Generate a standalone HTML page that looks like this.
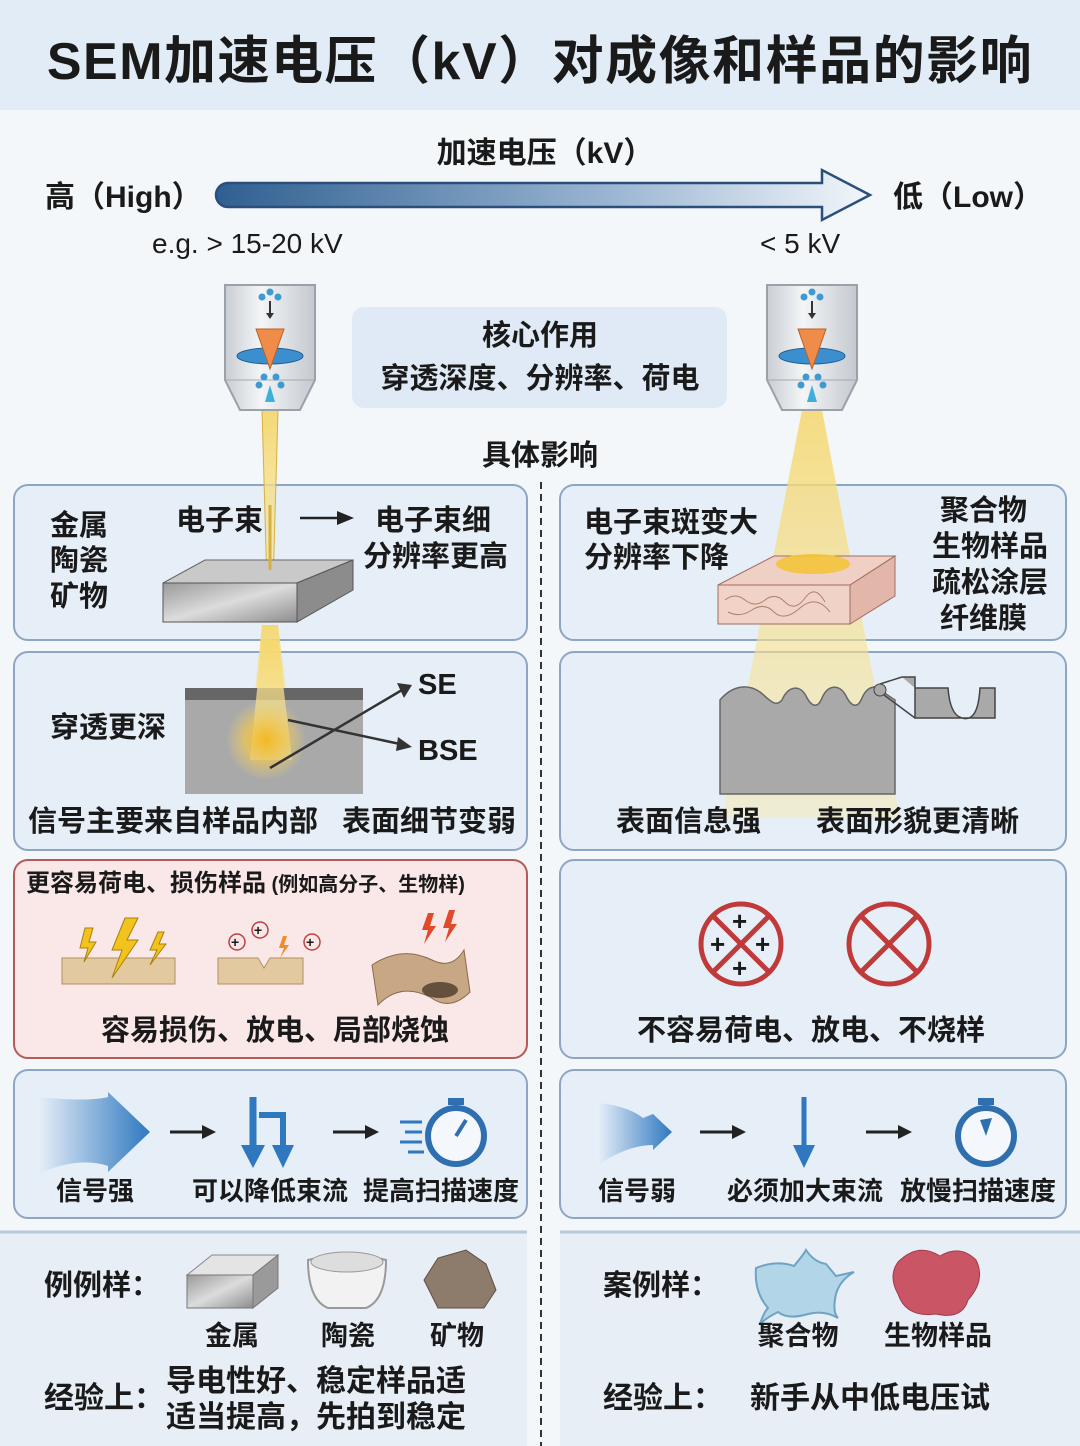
<!DOCTYPE html>
<html><head><meta charset="utf-8">
<style>
html,body{margin:0;padding:0;background:#f4f7fa;}
svg{display:block;}
text{font-family:"Liberation Sans","Noto Sans CJK SC",sans-serif;font-weight:bold;fill:#1a1a1a;}
.n{font-weight:normal;}
</style></head><body>
<svg width="1080" height="1446" viewBox="0 0 1080 1446" xmlns="http://www.w3.org/2000/svg">
<defs>
<linearGradient id="ar" x1="0" x2="1" y1="0" y2="0"><stop offset="0" stop-color="#2f5f91"/><stop offset="0.6" stop-color="#9ab5d2"/><stop offset="1" stop-color="#f2f6fa"/></linearGradient>
<linearGradient id="bm" x1="0" x2="0" y1="0" y2="1"><stop offset="0" stop-color="#f5d76e" stop-opacity="0.95"/><stop offset="1" stop-color="#f8e9a8" stop-opacity="0.5"/></linearGradient>
<linearGradient id="met" x1="0" x2="1" y1="0" y2="1"><stop offset="0" stop-color="#9a9a9a"/><stop offset="0.5" stop-color="#dcdcdc"/><stop offset="1" stop-color="#8d8d8d"/></linearGradient>
<radialGradient id="glow"><stop offset="0" stop-color="#f3b820"/><stop offset="0.5" stop-color="#f5c94a" stop-opacity="0.7"/><stop offset="1" stop-color="#f5d76e" stop-opacity="0"/></radialGradient>
<linearGradient id="gun" x1="0" x2="1"><stop offset="0" stop-color="#c9ced4"/><stop offset="0.4" stop-color="#f3f5f7"/><stop offset="1" stop-color="#c4c9cf"/></linearGradient>
<linearGradient id="sig" x1="0" x2="1"><stop offset="0" stop-color="#e7eff8"/><stop offset="1" stop-color="#2f78c0"/></linearGradient>
</defs>
<rect width="1080" height="1446" fill="#f4f7fa"/>
<rect width="1080" height="110" fill="#e2ecf6"/>
<text x="540" y="79" font-size="52" text-anchor="middle" letter-spacing="1.5">SEM加速电压（kV）对成像和样品的影响</text>

<text x="545" y="163" font-size="30" text-anchor="middle">加速电压（kV）</text>
<text x="45" y="207" font-size="30">高（High）</text>
<text x="893" y="207" font-size="30">低（Low）</text>
<path d="M228 183 H822 V170 L870 195 L822 220 V207 H228 A12 12 0 0 1 228 183Z" fill="url(#ar)" stroke="#2a4f7a" stroke-width="2.5"/>
<text x="152" y="253" font-size="28" class="n">e.g. &gt; 15-20 kV</text>
<text x="760" y="253" font-size="28" class="n">&lt; 5 kV</text>

<rect x="352" y="307" width="375" height="101" rx="12" fill="#dfeaf6"/>
<text x="540" y="345" font-size="29" text-anchor="middle">核心作用</text>
<text x="540" y="388" font-size="29" text-anchor="middle">穿透深度、分辨率、荷电</text>
<text x="540" y="465" font-size="29" text-anchor="middle">具体影响</text>
<line x1="541" y1="482" x2="541" y2="1446" stroke="#333" stroke-width="2" stroke-dasharray="7 5"/>

<g fill="#e6eef7" stroke="#8ea6c4" stroke-width="2">
<rect x="14" y="485" width="513" height="155" rx="14"/>
<rect x="560" y="485" width="506" height="155" rx="14"/>
<rect x="14" y="652" width="513" height="198" rx="14"/>
<rect x="560" y="652" width="506" height="198" rx="14"/>
<rect x="560" y="860" width="506" height="198" rx="14"/>
<rect x="14" y="1070" width="513" height="148" rx="14"/>
<rect x="560" y="1070" width="506" height="148" rx="14"/>
</g>
<rect x="14" y="860" width="513" height="198" rx="14" fill="#fae7e7" stroke="#b55a5a" stroke-width="2"/>
<rect x="0" y="1232" width="527" height="214" fill="#e8eef6"/>
<rect x="560" y="1232" width="520" height="214" fill="#e8eef6"/>
<line x1="0" y1="1232" x2="527" y2="1232" stroke="#b8c8dc" stroke-width="3"/>
<line x1="560" y1="1232" x2="1080" y2="1232" stroke="#b8c8dc" stroke-width="3"/>

<polygon points="262,410 278,410 272,620 268,620" fill="url(#bm)" stroke="#d6b040" stroke-width="1"/>
<polygon points="262,625 278,625 292,740 250,740" fill="url(#bm)"/>
<g transform="translate(225,285)">
<path d="M0 0 H90 V95 L75 125 H15 L0 95Z" fill="url(#gun)" stroke="#9aa1a8" stroke-width="2"/>
<line x1="0" y1="95" x2="90" y2="95" stroke="#a5abb1"/>
<circle cx="37" cy="12" r="3.5" fill="#3f9ad3"/><circle cx="45" cy="7" r="3.5" fill="#3f9ad3"/><circle cx="53" cy="12" r="3.5" fill="#3f9ad3"/>
<path d="M45 16 V30" stroke="#333" stroke-width="2"/><path d="M41 28 L45 34 L49 28Z" fill="#333"/>
<ellipse cx="45" cy="71" rx="33" ry="8" fill="#3b8fcf" stroke="#245f94"/>
<path d="M31 44 H59 L45 84Z" fill="#f08c4a" stroke="#b9602a"/>
<circle cx="39" cy="92" r="3.5" fill="#3f9ad3"/><circle cx="51" cy="92" r="3.5" fill="#3f9ad3"/><circle cx="34" cy="100" r="3.5" fill="#3f9ad3"/><circle cx="56" cy="100" r="3.5" fill="#3f9ad3"/>
<path d="M40 117 L45 100 L50 117Z" fill="#3cb0d8"/>
</g>
<polygon points="802,410 822,410 900,818 722,818" fill="url(#bm)" opacity="0.9"/>
<g transform="translate(767,285)">
<path d="M0 0 H90 V95 L75 125 H15 L0 95Z" fill="url(#gun)" stroke="#9aa1a8" stroke-width="2"/>
<line x1="0" y1="95" x2="90" y2="95" stroke="#a5abb1"/>
<circle cx="37" cy="12" r="3.5" fill="#3f9ad3"/><circle cx="45" cy="7" r="3.5" fill="#3f9ad3"/><circle cx="53" cy="12" r="3.5" fill="#3f9ad3"/>
<path d="M45 16 V30" stroke="#333" stroke-width="2"/><path d="M41 28 L45 34 L49 28Z" fill="#333"/>
<ellipse cx="45" cy="71" rx="33" ry="8" fill="#3b8fcf" stroke="#245f94"/>
<path d="M31 44 H59 L45 84Z" fill="#f08c4a" stroke="#b9602a"/>
<circle cx="39" cy="92" r="3.5" fill="#3f9ad3"/><circle cx="51" cy="92" r="3.5" fill="#3f9ad3"/><circle cx="34" cy="100" r="3.5" fill="#3f9ad3"/><circle cx="56" cy="100" r="3.5" fill="#3f9ad3"/>
<path d="M40 117 L45 100 L50 117Z" fill="#3cb0d8"/>
</g>

<text x="50" y="535" font-size="29">金属</text>
<text x="50" y="570" font-size="29">陶瓷</text>
<text x="50" y="606" font-size="29">矿物</text>
<text x="176" y="530" font-size="29">电子束</text>
<path d="M300 518 H340" stroke="#222" stroke-width="2.5"/><path d="M337 511 L354 518 L337 525Z" fill="#222"/>
<text x="375" y="530" font-size="29">电子束细</text>
<text x="363" y="566" font-size="29">分辨率更高</text>
<polygon points="163,583 205,560 353,560 297,583" fill="#c9c9c9" stroke="#666"/>
<rect x="163" y="583" width="134" height="39" fill="url(#met)" stroke="#555"/>
<polygon points="297,583 353,560 353,590 297,622" fill="#8c8c8c" stroke="#555"/>
<line x1="270" y1="505" x2="270" y2="570" stroke="#d6b040" stroke-width="3"/>

<rect x="185" y="688" width="178" height="106" fill="#a9a9a9"/>
<rect x="185" y="688" width="178" height="12" fill="#666"/>
<polygon points="262,640 278,640 292,760 250,760" fill="url(#bm)"/>
<circle cx="266" cy="740" r="40" fill="url(#glow)"/>
<text x="50" y="737" font-size="29">穿透更深</text>
<path d="M270 768 L402 690" stroke="#333" stroke-width="2.5"/><path d="M397 683 L412 685 L404 698Z" fill="#333"/>
<path d="M288 720 L400 744" stroke="#333" stroke-width="2.5"/><path d="M398 737 L412 747 L396 751Z" fill="#333"/>
<text x="418" y="694" font-size="29">SE</text>
<text x="418" y="760" font-size="29">BSE</text>
<text x="28" y="831" font-size="29">信号主要来自样品内部</text>
<text x="342" y="831" font-size="29">表面细节变弱</text>

<text x="584" y="532" font-size="29">电子束斑变大</text>
<text x="584" y="567" font-size="29">分辨率下降</text>
<text x="940" y="520" font-size="29">聚合物</text>
<text x="932" y="556" font-size="29">生物样品</text>
<text x="932" y="592" font-size="29">疏松涂层</text>
<text x="940" y="628" font-size="29">纤维膜</text>
<polygon points="718,585 774,556 895,556 850,585" fill="#f0cfc4" stroke="#a06d64"/>
<rect x="718" y="585" width="132" height="39" fill="#f1d2c7" stroke="#a06d64"/>
<polygon points="850,585 895,556 895,596 850,624" fill="#e2b7aa" stroke="#a06d64"/>
<path d="M725 600 q10 -8 20 0 t20 0 t20 2 t20 -4 t20 4 M728 612 q12 6 24 -2 t22 2 t26 -4 t30 4" fill="none" stroke="#b08070" stroke-width="1"/>
<ellipse cx="813" cy="564" rx="37" ry="10" fill="#f3c43a" opacity="0.9"/>

<path d="M720 700 C730 688,745 682,760 692 C770 700,775 708,782 700 C788 686,800 684,806 696 C812 708,818 708,822 698 C828 684,840 684,846 696 C852 708,858 708,862 698 C868 684,880 684,886 694 L895 700 V794 H720Z" fill="#a9a9a9" stroke="#666" stroke-width="1.5"/>
<circle cx="880" cy="690" r="6" fill="#aaa" stroke="#444"/>
<path d="M880 684 L902 677 M884 695 L915 718" stroke="#444" stroke-width="1.5"/>
<path d="M902 677 H915 V718 H995 V688 H980 q-2 35 -18 30 q-12 -3 -14 -30 H915" fill="#a9a9a9" stroke="#444" stroke-width="1.5"/>
<text x="616" y="831" font-size="29">表面信息强</text>
<text x="816" y="831" font-size="29">表面形貌更清晰</text>

<text x="26" y="891" font-size="24">更容易荷电、损伤样品<tspan font-size="20"> (例如高分子、生物样)</tspan></text>
<rect x="62" y="958" width="113" height="26" fill="#e2c9a0" stroke="#b09060"/>
<path d="M125 918 L112 950 L122 950 L112 978 L138 940 L127 940 L138 918Z" fill="#f2c31c" stroke="#a88010"/>
<path d="M85 928 L80 948 L88 948 L84 962 L96 942 L89 942 L93 928Z" fill="#f2c31c" stroke="#a88010"/>
<path d="M158 932 L150 950 L157 950 L150 965 L166 944 L159 944 L164 932Z" fill="#f2c31c" stroke="#a88010"/>
<path d="M218 958 H258 L264 968 L270 958 H303 V984 H218Z" fill="#e2c9a0" stroke="#b09060"/>
<g fill="none" stroke="#c04040" stroke-width="1.5"><circle cx="237" cy="942" r="8"/><circle cx="260" cy="930" r="8"/><circle cx="312" cy="942" r="8"/></g>
<g font-size="14"><text x="231" y="947" fill="#c04040">+</text><text x="254" y="935" fill="#c04040">+</text><text x="306" y="947" fill="#c04040">+</text></g>
<path d="M283 936 L279 948 L284 948 L280 958 L289 945 L284 945 L287 936Z" fill="#f08c2a"/>
<path d="M372 965 q30 -20 60 -5 q20 10 32 -10 l6 42 q-20 20 -40 5 q-30 -15 -52 8Z" fill="#c8a884" stroke="#8a6a4a"/>
<ellipse cx="440" cy="990" rx="18" ry="8" fill="#3a2a20" opacity="0.7"/>
<path d="M428 913 L422 930 L428 930 L424 944 L436 926 L430 926 L434 913Z" fill="#e04a2a"/>
<path d="M449 910 L443 928 L449 928 L445 942 L457 924 L451 924 L455 910Z" fill="#e04a2a"/>
<text x="275" y="1040" font-size="29" text-anchor="middle">容易损伤、放电、局部烧蚀</text>

<g fill="none" stroke="#c03a3a" stroke-width="5">
<circle cx="741" cy="944" r="40"/><path d="M713 916 L769 972 M769 916 L713 972"/>
<circle cx="889" cy="944" r="40"/><path d="M861 916 L917 972 M917 916 L861 972"/>
</g>
<g font-size="26"><text x="732" y="930" fill="#2f6fb0">+</text><text x="710" y="953" fill="#2f6fb0">+</text><text x="755" y="953" fill="#2f6fb0">+</text><text x="732" y="977" fill="#2f6fb0">+</text></g>
<text x="811" y="1040" font-size="29" text-anchor="middle">不容易荷电、放电、不烧样</text>

<path d="M38 1097 q50 5 70 0 L108 1092 L150 1132 L108 1172 V1166 q-30 -10 -70 8Z" fill="url(#sig)"/>
<path d="M170 1132 H205" stroke="#222" stroke-width="3"/><path d="M202 1125 L216 1132 L202 1139Z" fill="#222"/>
<path d="M253 1097 V1150" stroke="#2f78c0" stroke-width="7"/><path d="M241 1145 L253 1168 L265 1145Z" fill="#2f78c0"/>
<path d="M259 1115 H283 V1148" stroke="#2f78c0" stroke-width="6" fill="none"/><path d="M272 1145 L283 1168 L294 1145Z" fill="#2f78c0"/>
<path d="M333 1132 H368" stroke="#222" stroke-width="3"/><path d="M365 1125 L379 1132 L365 1139Z" fill="#222"/>
<circle cx="456" cy="1136" r="28" fill="#f4f8fc" stroke="#2f6fb0" stroke-width="6"/>
<rect x="448" y="1098" width="16" height="7" fill="#2f6fb0"/>
<path d="M456 1136 L466 1120" stroke="#2f6fb0" stroke-width="4"/>
<path d="M400 1122 H422 M405 1132 H422 M400 1142 H422 M408 1152 H424" stroke="#2f78c0" stroke-width="3"/>
<text x="56" y="1200" font-size="26">信号强</text>
<text x="192" y="1200" font-size="26">可以降低束流</text>
<text x="363" y="1200" font-size="26">提高扫描速度</text>

<path d="M598 1103 q30 3 45 15 L653 1114 L672 1132 L653 1150 V1145 q-25 0 -55 20Z" fill="url(#sig)"/>
<path d="M700 1132 H735" stroke="#222" stroke-width="3"/><path d="M732 1125 L746 1132 L732 1139Z" fill="#222"/>
<path d="M804 1097 V1150" stroke="#2f78c0" stroke-width="5"/><path d="M793 1145 L804 1168 L815 1145Z" fill="#2f78c0"/>
<path d="M866 1132 H901" stroke="#222" stroke-width="3"/><path d="M898 1125 L912 1132 L898 1139Z" fill="#222"/>
<circle cx="986" cy="1136" r="28" fill="#f4f8fc" stroke="#2f6fb0" stroke-width="6"/>
<rect x="978" y="1098" width="16" height="7" fill="#2f6fb0"/>
<path d="M986 1136 L980 1120 L992 1118Z" fill="#2f6fb0"/>
<text x="598" y="1200" font-size="26">信号弱</text>
<text x="727" y="1200" font-size="26">必须加大束流</text>
<text x="900" y="1200" font-size="26">放慢扫描速度</text>

<text x="44" y="1295" font-size="29">例例样：</text>
<polygon points="187,1275 212,1255 278,1255 253,1275" fill="#e4e4e4" stroke="#888"/>
<rect x="187" y="1275" width="66" height="33" fill="url(#met)" stroke="#777"/>
<polygon points="253,1275 278,1255 278,1288 253,1308" fill="#9a9a9a" stroke="#777"/>
<path d="M308 1260 q40 -10 78 0 q0 40 -20 48 h-38 q-20 -8 -20 -48Z" fill="#f2f2f2" stroke="#999" stroke-width="2"/>
<ellipse cx="347" cy="1262" rx="36" ry="10" fill="#ddd" stroke="#999"/>
<path d="M424 1280 l14 -22 l28 -8 l20 14 l10 26 l-12 18 l-46 0Z" fill="#8d7b6c" stroke="#5e4f43"/>
<text x="232" y="1345" font-size="27" text-anchor="middle">金属</text>
<text x="348" y="1345" font-size="27" text-anchor="middle">陶瓷</text>
<text x="457" y="1345" font-size="27" text-anchor="middle">矿物</text>
<text x="44" y="1408" font-size="30">经验上：</text>
<text x="166" y="1391" font-size="30">导电性好、稳定样品适</text>
<text x="166" y="1427" font-size="30">适当提高，先拍到稳定</text>

<text x="603" y="1295" font-size="29">案例样：</text>
<path d="M756 1268 q20 -8 38 -2 q10 -12 12 -16 q8 12 20 14 l10 12 l18 -4 q-14 8 -18 22 q-4 18 2 24 q-14 -8 -30 -4 q-20 6 -30 -2 q-12 6 -18 12 q4 -12 8 -16 q-14 -16 -12 -40Z" fill="#b3d5e8" stroke="#6ea3c4" stroke-width="2"/>
<path d="M898 1262 q20 -20 42 -6 q20 -12 36 4 q10 20 -8 40 q-6 20 -32 14 q-30 4 -38 -20 q-10 -18 0 -32Z" fill="#c95565" stroke="#a33a4a"/>
<text x="798" y="1345" font-size="27" text-anchor="middle">聚合物</text>
<text x="938" y="1345" font-size="27" text-anchor="middle">生物样品</text>
<text x="603" y="1408" font-size="30">经验上：</text>
<text x="750" y="1408" font-size="30">新手从中低电压试</text>
</svg>
</body></html>
